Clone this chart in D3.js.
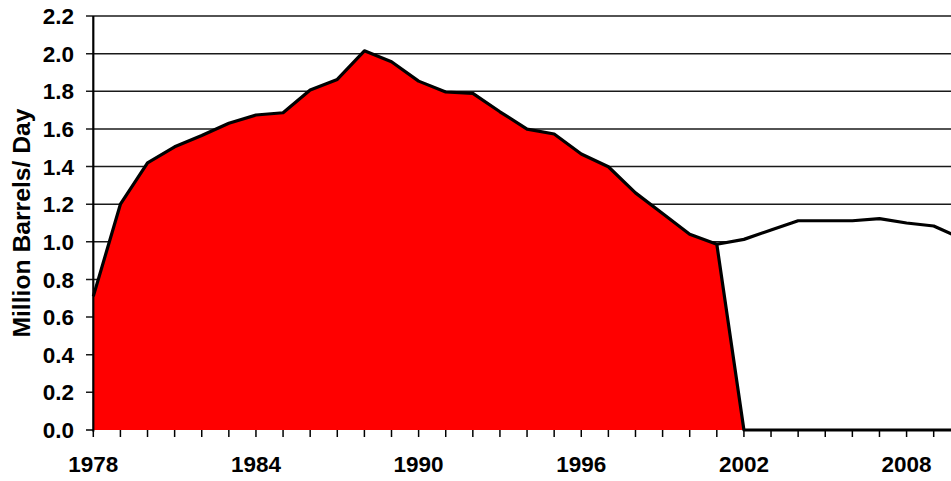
<!DOCTYPE html>
<html>
<head>
<meta charset="utf-8">
<script src="https://cdn.jsdelivr.net/npm/d3@7"></script>
<style>
  html, body { margin: 0; padding: 0; background: #fff; }
  svg { display: block; }
  text { font-family: "Liberation Sans", Arial, sans-serif; font-weight: bold; fill: #000; }
</style>
</head>
<body>
<svg id="chart" width="951" height="481"></svg>
<script>
// ---- data ----
const years = d3.range(1978, 2011);
const redValues = [0.71, 1.20, 1.42, 1.505, 1.565, 1.63, 1.674, 1.686, 1.807, 1.863,
                   2.015, 1.957, 1.854, 1.796, 1.789, 1.691, 1.599, 1.573, 1.467, 1.399,
                   1.26, 1.15, 1.04, 0.987, 0, 0, 0, 0, 0, 0, 0, 0, 0];
const whiteYears = [2001, 2002, 2003, 2004, 2005, 2006, 2007, 2008, 2009, 2010];
const whiteValues = [0.987, 1.013, 1.063, 1.112, 1.112, 1.112, 1.123, 1.10, 1.084, 1.02];
const yTicks = [0, 0.2, 0.4, 0.6, 0.8, 1.0, 1.2, 1.4, 1.6, 1.8, 2.0, 2.2];
const xLabelYears = [1978, 1984, 1990, 1996, 2002, 2008];
const yTitle = "Million Barrels/ Day";

// ---- layout ----
const svg = d3.select("#chart");
const x = d3.scaleLinear().domain([1978, 2010]).range([93.3, 960.8]);
const y = d3.scaleLinear().domain([0, 2.2]).range([430, 16]);
const plotLeft = 93.3, plotRight = 960.8;

// gridlines + y ticks
svg.append("g").selectAll("line").data(yTicks.filter(d => d > 0)).join("line")
  .attr("x1", 86).attr("x2", plotRight)
  .attr("y1", d => y(d)).attr("y2", d => y(d))
  .attr("stroke", "#1a1a1a").attr("stroke-width", 1.5);

// y tick mark at 0
svg.append("line").attr("x1", 86).attr("x2", plotLeft).attr("y1", y(0)).attr("y2", y(0))
  .attr("stroke", "#000").attr("stroke-width", 1.5);

// y tick labels
svg.append("g").selectAll("text").data(yTicks).join("text")
  .attr("x", 74).attr("y", d => y(d)).attr("dy", "0.36em")
  .attr("text-anchor", "end").style("font-size", "22.5px")
  .text(d => d3.format(".1f")(d));

// x tick marks
svg.append("g").selectAll("line").data(years).join("line")
  .attr("x1", d => x(d)).attr("x2", d => x(d))
  .attr("y1", y(0)).attr("y2", y(0) + 7)
  .attr("stroke", "#000").attr("stroke-width", 1.5);

// x labels
svg.append("g").selectAll("text").data(xLabelYears).join("text")
  .attr("x", d => x(d)).attr("y", 472)
  .attr("text-anchor", "middle").style("font-size", "22.5px")
  .text(d => d);

// white area series
const whiteData = whiteYears.map((yr, i) => ({ yr, v: whiteValues[i] }));
svg.append("path").datum(whiteData)
  .attr("d", d3.area().x(d => x(d.yr)).y0(y(0)).y1(d => y(d.v)))
  .attr("fill", "#fff");
svg.append("path").datum(whiteData)
  .attr("d", d3.line().x(d => x(d.yr)).y(d => y(d.v)))
  .attr("fill", "none").attr("stroke", "#000").attr("stroke-width", 3.2)
  .attr("stroke-linejoin", "round");

// red area series
const redData = years.map((yr, i) => ({ yr, v: redValues[i] }));
svg.append("path").datum(redData)
  .attr("d", d3.area().x(d => x(d.yr)).y0(y(0)).y1(d => y(d.v)))
  .attr("fill", "#ff0000");
svg.append("path").datum(redData)
  .attr("d", d3.line().x(d => x(d.yr)).y(d => y(d.v)))
  .attr("fill", "none").attr("stroke", "#000").attr("stroke-width", 3.2)
  .attr("stroke-linejoin", "round");

// y axis line
svg.append("line").attr("x1", plotLeft).attr("x2", plotLeft)
  .attr("y1", y(2.2)).attr("y2", y(0) + 1.5)
  .attr("stroke", "#000").attr("stroke-width", 2.2);

// y title
svg.append("text")
  .attr("transform", `translate(29.5, 223) rotate(-90)`)
  .attr("text-anchor", "middle").style("font-size", "24.7px")
  .text(yTitle);
</script>
</body>
</html>
